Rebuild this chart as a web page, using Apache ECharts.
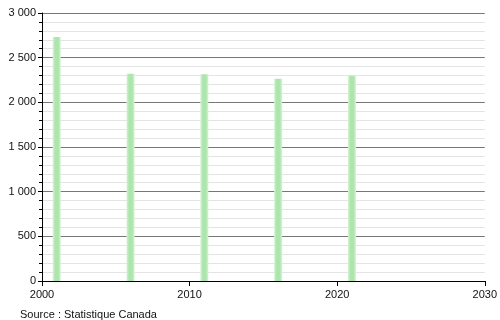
<!DOCTYPE html>
<html><head><meta charset="utf-8">
<script src="https://cdn.jsdelivr.net/npm/echarts@6/dist/echarts.min.js"></script>
<style>html,body{margin:0;padding:0;background:#fff}#c{width:500px;height:320px}</style>
</head><body><div id="c"></div>
<script>
const years = [2001, 2006, 2011, 2016, 2021];
const population = [2730, 2320, 2315, 2265, 2295];
const xTicks = [2000, 2010, 2020, 2030];
const yTicks = [0, 500, 1000, 1500, 2000, 2500, 3000];
const sourceText = 'Source : Statistique Canada';

const chart = echarts.init(document.getElementById('c'), null, {renderer: 'canvas'});
const fmt = v => {
  const s = String(Math.round(v));
  return s.length > 3 ? s.slice(0, s.length - 3) + ' ' + s.slice(-3) : s;
};
const barColor = new echarts.graphic.LinearGradient(0, 0, 1, 0, [
  {offset: 0, color: '#d8f3d8'},
  {offset: 0.3, color: '#ace6ac'},
  {offset: 0.7, color: '#ace6ac'},
  {offset: 1, color: '#d8f3d8'}
]);
chart.setOption({
  animation: false,
  backgroundColor: '#fff',
  textStyle: {fontFamily: 'Liberation Sans, Arial, sans-serif'},
  grid: {left: 42, right: 12, top: 13, bottom: 39, containLabel: false},
  xAxis: {
    type: 'value', min: xTicks[0], max: xTicks[xTicks.length - 1], interval: 10,
    axisLine: {show: true, onZero: false, lineStyle: {color: '#000', width: 1}},
    axisTick: {show: true, length: 5, lineStyle: {color: '#000'}},
    axisLabel: {color: '#111', fontSize: 11, margin: 8, formatter: v => String(v)},
    splitLine: {show: false}
  },
  yAxis: {
    type: 'value', min: yTicks[0], max: yTicks[yTicks.length - 1], interval: 500,
    axisLine: {show: true, lineStyle: {color: '#000', width: 1}},
    axisTick: {show: true, length: 4, lineStyle: {color: '#000'}},
    minorTick: {show: true, splitNumber: 5, length: 3, lineStyle: {color: '#000'}},
    axisLabel: {color: '#111', fontSize: 11, margin: 6, formatter: fmt},
    splitLine: {show: true, lineStyle: {color: '#777', width: 1}},
    minorSplitLine: {show: true, lineStyle: {color: '#e4e4e4', width: 1}}
  },
  series: [{
    type: 'bar',
    data: years.map((y, i) => [y, population[i]]),
    barWidth: 8,
    itemStyle: {color: barColor}
  }],
  graphic: [{
    type: 'text', left: 20, top: 309,
    style: {text: sourceText, fontSize: 11, fill: '#111', fontFamily: 'Liberation Sans, Arial, sans-serif'}
  }]
});
</script></body></html>
